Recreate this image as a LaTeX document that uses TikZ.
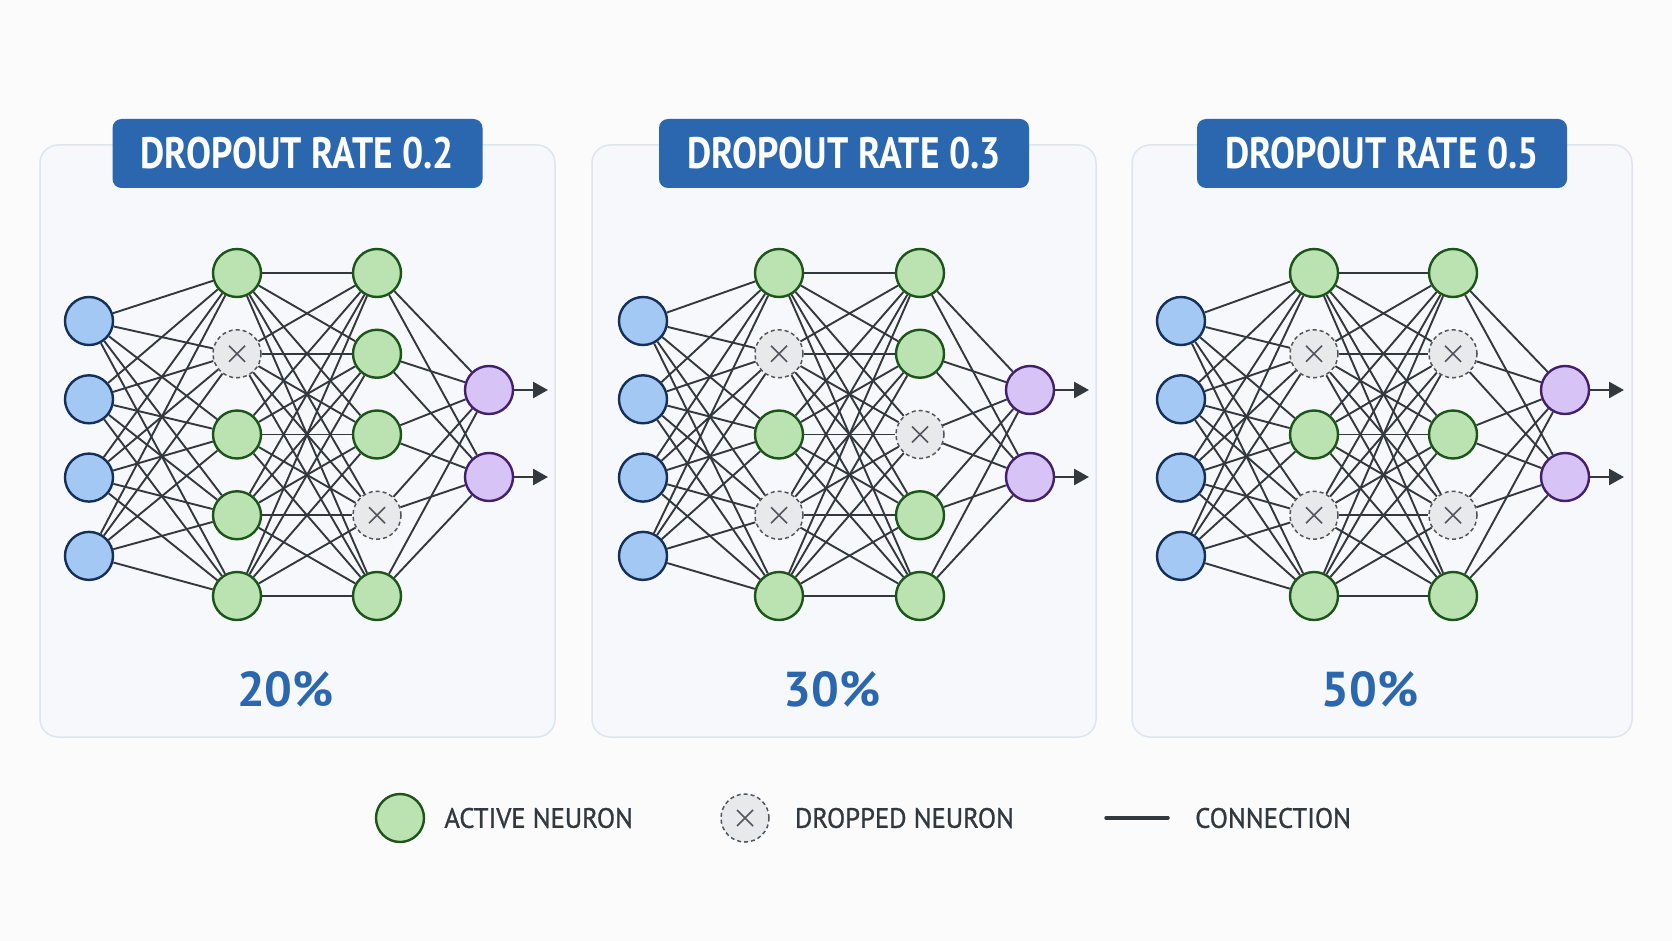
\documentclass[tikz,border=0pt]{standalone}
\usepackage{fontspec}
\setmainfont{PT Sans}
\newfontfamily\headfont[FakeStretch=0.85]{PT Sans}
\newfontfamily\legfont[FakeStretch=0.95,FakeBold=1]{PT Sans}
\usetikzlibrary{arrows.meta,positioning}

\definecolor{pagebg}{HTML}{FBFBFC}
\definecolor{panelbg}{HTML}{F6F8FB}
\definecolor{panelline}{HTML}{DFE5EE}
\definecolor{headblue}{HTML}{2B67AF}
\definecolor{inpfill}{HTML}{A4C8F4}
\definecolor{inpline}{HTML}{142F58}
\definecolor{actfill}{HTML}{BAE3B1}
\definecolor{actline}{HTML}{1C5419}
\definecolor{outfill}{HTML}{D8C3F6}
\definecolor{outdark}{HTML}{42206A}
\definecolor{dropfill}{HTML}{E8E9EA}
\definecolor{wire}{HTML}{33383F}

\tikzset{
	neuron/.style={circle,minimum size=48pt,inner sep=0pt,line width=2.4pt},
	inp/.style={neuron,draw=inpline,fill=inpfill},
	act/.style={neuron,draw=actline,fill=actfill},
	outn/.style={neuron,draw=outdark,fill=outfill},
	drop/.style={neuron,draw=wire!85,fill=dropfill,line width=1.5pt,dash pattern=on 4pt off 3pt,
		path picture={\draw[wire!85,line width=1.7pt,solid]
			([shift={(-8,-8)}]path picture bounding box.center) -- ([shift={(8,8)}]path picture bounding box.center)
			([shift={(-8,8)}]path picture bounding box.center) -- ([shift={(8,-8)}]path picture bounding box.center);}},
	conn/.style={draw=wire,line width=1.9pt},
	outarrow/.style={draw=wire,line width=2.6pt,-{Triangle[length=15pt,width=16pt]}},
	panel/.style={draw=panelline,fill=panelbg,line width=1.5pt,rounded corners=18pt},
	header/.style={fill=headblue,rounded corners=9pt,minimum width=370pt,minimum height=69pt,
		text=white,font=\headfont\bfseries\fontsize{44}{44}\selectfont},
	pct/.style={text=headblue,font=\bfseries\fontsize{49}{49}\selectfont},
	legtext/.style={text=wire,inner sep=0pt,font=\legfont\fontsize{28}{28}\selectfont},
	legline/.style={draw=wire,line width=3.5pt,line cap=round}
}

\begin{document}
\begin{tikzpicture}[x=1pt,y=-1pt]
	\fill[pagebg] (0,0) rectangle (1672,941);
	\useasboundingbox (0,0) rectangle (1672,941);

	% one panel per dropout rate
	\foreach \p/\L/\R/\xi/\xa/\xb/\xo/\rate/\pct/\sa/\sb in {
		a/40/555/89/237/377/489/0.2/20/{act,drop,act,act,act}/{act,act,act,drop,act},
		b/592/1096/643/779/920/1030/0.3/30/{act,drop,act,drop,act}/{act,act,drop,act,act},
		c/1132/1632/1181/1314/1453/1565/0.5/50/{act,drop,act,drop,act}/{act,drop,act,drop,act}}
	{
		\draw[panel] (\L,145) rectangle (\R,737);
		\node[header] (\p t) at ({(\L+\R)/2},153.5) {DROPOUT RATE \rate};
		\node[pct] (\p p) at ({(\L+\R)/2-12},689) {\pct\%};

		% layers
		\foreach \j in {1,...,4}
			\node[inp] (\p i\j) at (\xi,{321+78.3*(\j-1)}) {};
		\foreach \s [count=\j] in \sa
			\node[\s] (\p h\j) at (\xa,{273+80.75*(\j-1)}) {};
		\foreach \s [count=\j] in \sb
			\node[\s] (\p g\j) at (\xb,{273+80.75*(\j-1)}) {};
		\foreach \j in {1,2}
		{
			\node[outn] (\p o\j) at (\xo,{390+87*(\j-1)}) {};
			\coordinate (\p e\j) at ({\xo+59},{390+87*(\j-1)});
			\draw[outarrow] (\p o\j) -- (\p e\j);
		}

		% connections
		\foreach \i in {1,...,4}
			\foreach \j in {1,...,5}
				\draw[conn] (\p i\i) -- (\p h\j);
		\foreach \i in {1,...,5}
			\foreach \j in {1,...,5}
				\draw[conn] (\p h\i) -- (\p g\j);
		\foreach \i in {1,...,5}
			\foreach \j in {1,2}
				\draw[conn] (\p g\i) -- (\p o\j);
	}

	% legend
	\node[act] (lga) at (400,818) {};
	\node[legtext,right=19pt of lga] (lgat) {ACTIVE NEURON};
	\node[drop] (lgd) at (745,818) {};
	\node[legtext,right=25pt of lgd] (lgdt) {DROPPED NEURON};
	\coordinate (lgs) at (1106,818);
	\coordinate (lge) at (1168,818);
	\draw[legline] (lgs) -- (lge);
	\node[legtext,right=27pt of lge] (lgct) {CONNECTION};
\end{tikzpicture}
\end{document}
